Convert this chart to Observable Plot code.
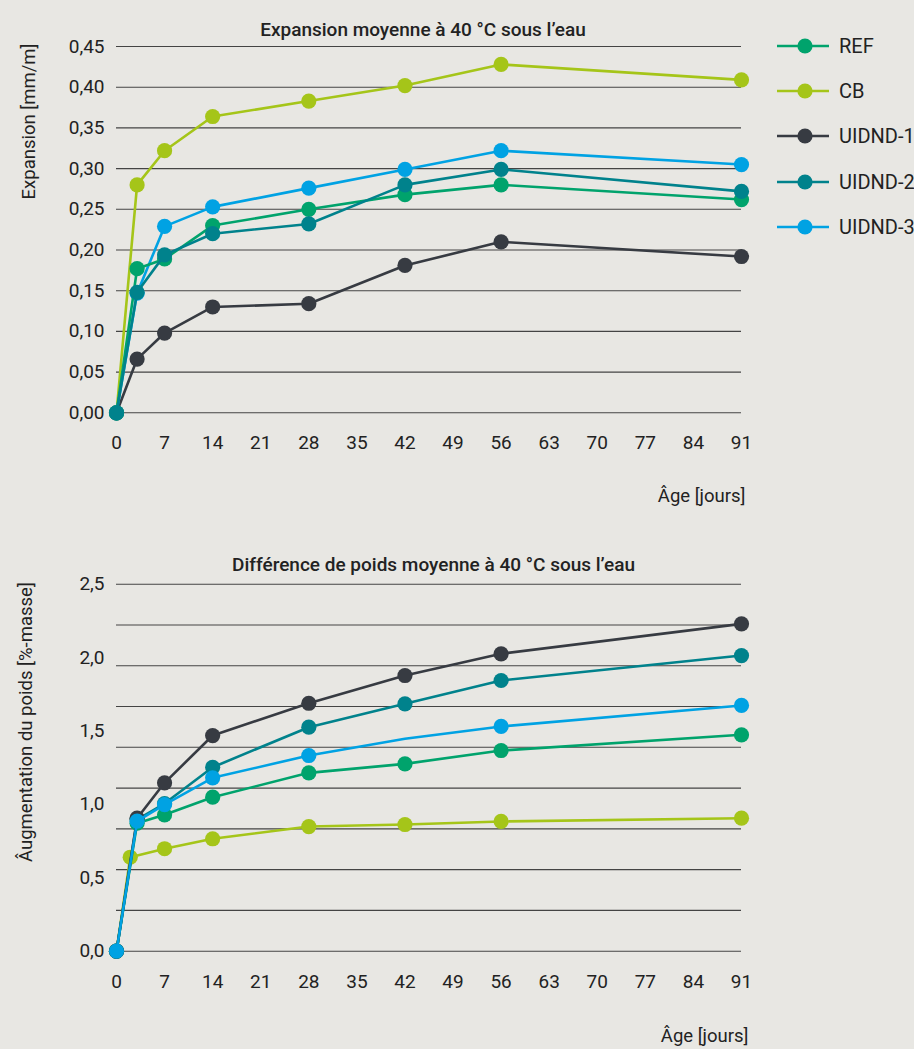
<!DOCTYPE html>
<html>
<head>
<meta charset="utf-8">
<script src="https://cdn.jsdelivr.net/npm/d3@7"></script>
<script src="https://cdn.jsdelivr.net/npm/@observablehq/plot@0.6"></script>
<style>
  body { margin: 0; background: #e8e7e3; }
  #page { position: relative; width: 914px; height: 1049px; background: #e8e7e3;
          font-family: Roboto, "Noto Sans", sans-serif; color: #222; overflow: hidden; }
  #top { position: absolute; left: 0; top: 0; }
  #bottom { position: absolute; left: 0; top: 520px; }
  #legend { position: absolute; left: 777px; top: 0; }
  .item { position: absolute; left: 0; display: flex; align-items: center; gap: 10px;
          height: 30px; margin-top: -15px; white-space: nowrap; font-size: 20px; }
</style>
</head>
<body>
<div id="page">
  <div id="top"></div>
  <div id="bottom"></div>
  <div id="legend"></div>
</div>
<script>
// Series shown in both panels
const series = ["REF", "CB", "UIDND-1", "UIDND-2", "UIDND-3"];
const colors = ["#00a36c", "#a5c519", "#373b42", "#00828c", "#00a2e3"];
const ageTicks = [0, 7, 14, 21, 28, 35, 42, 49, 56, 63, 70, 77, 84, 91];

// Mean expansion at 40 °C under water [mm/m]
const expDays   = [0, 3, 7, 14, 28, 42, 56, 91];
const expREF    = [0, 0.177, 0.189, 0.230, 0.250, 0.268, 0.280, 0.262];
const expCB     = [0, 0.280, 0.322, 0.364, 0.383, 0.402, 0.428, 0.409];
const expUIDND1 = [0, 0.066, 0.098, 0.130, 0.134, 0.181, 0.210, 0.192];
const expUIDND2 = [0, 0.148, 0.194, 0.220, 0.232, 0.280, 0.299, 0.272];
const expUIDND3 = [0, 0.147, 0.229, 0.253, 0.276, 0.299, 0.322, 0.305];
const expTicks  = [0, 0.05, 0.10, 0.15, 0.20, 0.25, 0.30, 0.35, 0.40, 0.45];

// Mean weight difference at 40 °C under water [%-mass]
const massDays   = [0, 3, 7, 14, 28, 42, 56, 91];
const massDaysCB = [0, 2, 7, 14, 28, 42, 56, 91];
const massREF    = [0, 0.872, 0.929, 1.049, 1.215, 1.276, 1.367, 1.474];
const massCB     = [0, 0.640, 0.698, 0.766, 0.849, 0.863, 0.884, 0.906];
const massUIDND1 = [0, 0.906, 1.147, 1.469, 1.689, 1.878, 2.026, 2.230];
const massUIDND2 = [0, 0.897, 1.006, 1.253, 1.526, 1.685, 1.844, 2.014];
const massUIDND3 = [0, 0.886, 0.999, 1.181, 1.333, 1.447, 1.531, 1.674];
const massTicks  = [0, 0.5, 1.0, 1.5, 2.0, 2.5];
const massGrid   = [0, 0.278, 0.556, 0.833, 1.111, 1.389, 1.667, 1.944, 2.222, 2.5];

const colorOf = Object.fromEntries(series.map((s, i) => [s, colors[i]]));
const rows = (name, days, vals) => vals.map((v, i) => ({series: name, day: days[i], value: v}));

const expData = {
  "REF": rows("REF", expDays, expREF),
  "CB": rows("CB", expDays, expCB),
  "UIDND-1": rows("UIDND-1", expDays, expUIDND1),
  "UIDND-2": rows("UIDND-2", expDays, expUIDND2),
  "UIDND-3": rows("UIDND-3", expDays, expUIDND3)
};
const massData = {
  "REF": rows("REF", massDays, massREF),
  "CB": rows("CB", massDaysCB, massCB),
  "UIDND-1": rows("UIDND-1", massDays, massUIDND1),
  "UIDND-2": rows("UIDND-2", massDays, massUIDND2),
  "UIDND-3": rows("UIDND-3", massDays, massUIDND3)
};

const comma = (digits) => (d) => d.toFixed(digits).replace(".", ",");
const gridStyle = {stroke: "#444", strokeWidth: 1.1};

// One line + marker pair per series, stacked in the given order
function seriesMarks(data, order, keepDot = () => true) {
  return order.flatMap((s) => [
    Plot.line(data[s], {x: "day", y: "value", stroke: colorOf[s], strokeWidth: 2.6}),
    Plot.dot(data[s].filter(keepDot), {x: "day", y: "value", fill: colorOf[s], r: 7.6})
  ]);
}

const baseStyle = {background: "transparent", fontFamily: "Roboto, 'Noto Sans', sans-serif",
                   fontSize: "19px", color: "#222", overflow: "visible"};

const expansionChart = Plot.plot({
  width: 760, height: 520,
  marginLeft: 116, marginRight: 19, marginTop: 46, marginBottom: 107.7,
  style: baseStyle,
  x: {domain: [0, 91], ticks: ageTicks, tickSize: 0, tickPadding: 23, label: null},
  y: {domain: [0, 0.45], ticks: expTicks, tickSize: 0, tickPadding: 12, tickFormat: comma(2), label: null},
  marks: [
    Plot.ruleY(expTicks, gridStyle),
    ...seriesMarks(expData, ["CB", "UIDND-1", "UIDND-3", "REF", "UIDND-2"]),
    Plot.text(["Expansion moyenne à 40 °C sous l’eau"], {frameAnchor: "top", dx: -6, dy: -24, fontWeight: 500, fontSize: 19}),
    Plot.text(["Expansion [mm/m]"], {frameAnchor: "top-left", dx: -95, dy: -3, rotate: -90, textAnchor: "end", fontSize: 18.5}),
    Plot.text(["Âge [jours]"], {frameAnchor: "bottom-right", dx: 4, dy: 89, textAnchor: "end", fontSize: 18.5})
  ]
});
document.getElementById("top").append(expansionChart);

const massChart = Plot.plot({
  width: 760, height: 529,
  marginLeft: 116, marginRight: 19, marginTop: 63.7, marginBottom: 98.3,
  style: baseStyle,
  x: {domain: [0, 91], ticks: ageTicks, tickSize: 0, tickPadding: 23, label: null},
  y: {domain: [0, 2.5], ticks: massTicks, tickSize: 0, tickPadding: 12, tickFormat: comma(1), label: null},
  marks: [
    Plot.ruleY(massGrid, gridStyle),
    // the 42-day UIDND-3 reading is drawn on the line without a marker
    ...seriesMarks(massData, ["CB", "REF", "UIDND-2", "UIDND-1", "UIDND-3"],
                   (d) => !(d.series === "UIDND-3" && d.day === 42)),
    Plot.text(["Différence de poids moyenne à 40 °C sous l’eau"], {frameAnchor: "top", dx: 4.5, dy: -26.5, fontWeight: 500, fontSize: 19}),
    Plot.text(["Âugmentation du poids [%-masse]"], {frameAnchor: "top-left", dx: -98, dy: -2, rotate: -90, textAnchor: "end", fontSize: 18.5}),
    Plot.text(["Âge [jours]"], {frameAnchor: "bottom-right", dx: 7, dy: 91, textAnchor: "end", fontSize: 18.5})
  ]
});
document.getElementById("bottom").append(massChart);

// Legend beside the upper panel
const legend = document.getElementById("legend");
series.forEach((s, i) => {
  const item = document.createElement("div");
  item.className = "item";
  item.style.top = (46 + i * 45.2) + "px";
  item.innerHTML =
    `<svg width="52" height="18"><line x1="0" x2="52" y1="9" y2="9" stroke="${colorOf[s]}" stroke-width="2.6"/>` +
    `<circle cx="28" cy="9" r="7.6" fill="${colorOf[s]}"/></svg><span>${s}</span>`;
  legend.append(item);
});
</script>
</body>
</html>
